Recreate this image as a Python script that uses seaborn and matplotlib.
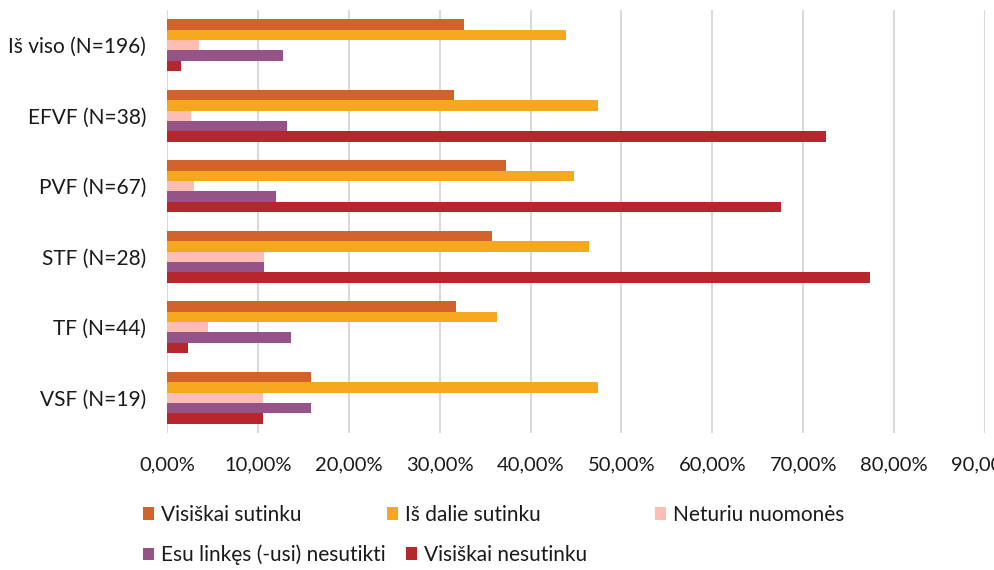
import matplotlib
matplotlib.use("Agg")
import matplotlib.pyplot as plt
import matplotlib.patches as mpatches
import matplotlib.ticker as mticker
import seaborn as sns
import pandas as pd

categories = ["Iš viso (N=196)", "EFVF (N=38)", "PVF (N=67)", "STF (N=28)", "TF (N=44)", "VSF (N=19)"]
series = ["Visiškai sutinku", "Iš dalie sutinku", "Neturiu nuomonės",
          "Esu linkęs (-usi) nesutikti", "Visiškai nesutinku"]
visiskai_sutinku = [32.65, 31.58, 37.31, 35.71, 31.82, 15.79]
is_dalies_sutinku = [43.88, 47.37, 44.78, 46.43, 36.36, 47.37]
neturiu_nuomones = [3.57, 2.63, 2.99, 10.71, 4.55, 10.53]
esu_linkes = [12.76, 13.16, 11.94, 10.71, 13.64, 15.79]
visiskai_nesutinku = [1.53, 72.50, 67.50, 77.40, 2.27, 10.53]
colors = ["#D1622A", "#F5A81E", "#FBBDB4", "#955387", "#B5272C"]
x_ticks = [0, 10, 20, 30, 40, 50, 60, 70, 80, 90]

values = [visiskai_sutinku, is_dalies_sutinku, neturiu_nuomones, esu_linkes, visiskai_nesutinku]
rows = []
for s, vals in zip(series, values):
    for c, v in zip(categories, vals):
        rows.append({"Kategorija": c, "Atsakymas": s, "Procentai": v})
df = pd.DataFrame(rows)

sns.set_theme(style="white")
plt.rcParams["font.family"] = ["Lato", "DejaVu Sans"]
text_color = "#1a1a1a"

fig = plt.figure(figsize=(9.95, 5.70), dpi=100)
ax = fig.add_axes([167/995, 1 - 433/570, (985 - 167)/995, (433 - 10)/570])

sns.barplot(data=df, y="Kategorija", x="Procentai", hue="Atsakymas",
            order=categories, hue_order=series, palette=colors,
            orient="h", width=0.74, linewidth=0, saturation=1,
            legend=False, ax=ax)

ax.set_xlim(0, 90)
ax.set_xticks(x_ticks)
ax.xaxis.set_major_formatter(mticker.FuncFormatter(lambda v, p: f"{v:.2f}%".replace(".", ",")))
ax.grid(axis="x", color="#D9D9D9", linewidth=1.5)
ax.set_axisbelow(True)
for sp in ax.spines.values():
    sp.set_visible(False)
ax.set_xlabel("")
ax.set_ylabel("")
ax.tick_params(axis="x", length=0, pad=17, labelsize=14.5, labelcolor=text_color)
ax.tick_params(axis="y", length=0, pad=15, labelsize=15, labelcolor=text_color)

# legend entries placed like the original (Excel-style wrapped legend)
legend_pos = [(143, 515), (387, 515), (655, 515), (143, 555), (406, 555)]
for s, col, (px, py) in zip(series, colors, legend_pos):
    h = mpatches.Patch(facecolor=col, edgecolor="none")
    fig.legend(handles=[h], labels=[s], loc="center left",
               bbox_to_anchor=(px/995, 1 - py/570), frameon=False,
               borderpad=0, borderaxespad=0, handlelength=0.55, handleheight=0.55,
               handletextpad=0.3, fontsize=15, labelcolor=text_color)

fig.savefig("out.png", dpi=100)
